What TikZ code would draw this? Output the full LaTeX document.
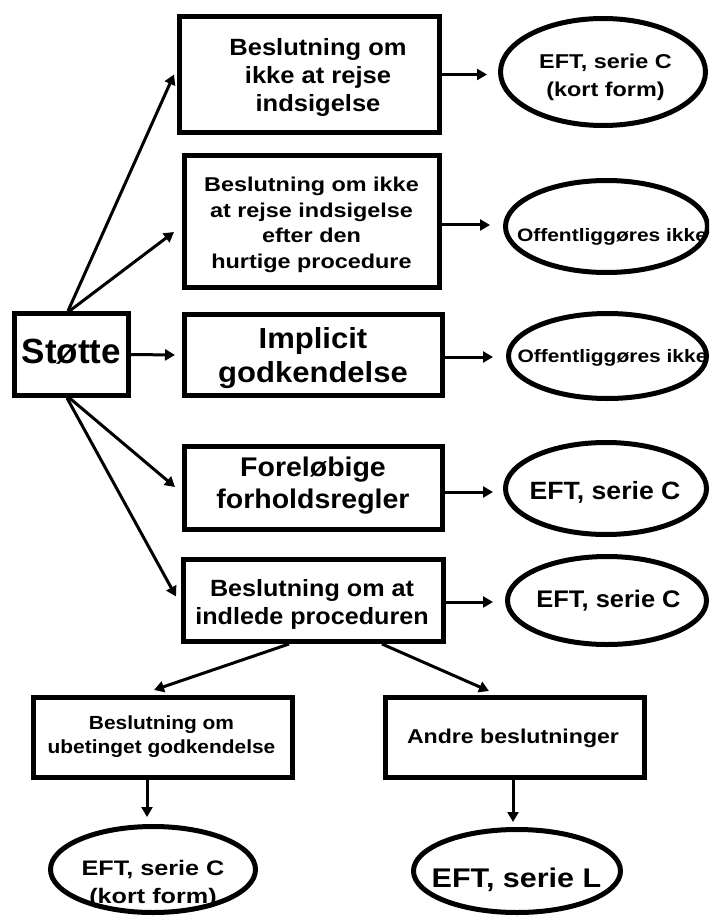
\documentclass[tikz,border=0pt]{standalone}
\usepackage{fontspec}
\setmainfont{Liberation Sans}
\usetikzlibrary{arrows.meta,shapes.geometric,calc}
\begin{document}
\begin{tikzpicture}[x=1pt,y=-1pt,
  box/.style={draw,line width=5pt,rectangle,inner sep=0pt},
  oval/.style={draw,line width=5pt,ellipse,inner sep=0pt},
  lbl/.style n args={3}{align=center,inner sep=0pt,font=\fontsize{#1}{#2}\selectfont\bfseries\addfontfeatures{FakeStretch=#3}},
  arr/.style={line width=3pt,-{Triangle[length=10pt,width=11pt]}}]
\useasboundingbox (0,0) rectangle (709,917);
\clip (0,0) rectangle (709,917);

% boxes
\node[box,minimum width=260pt,minimum height=116pt] (b1) at (309.5,74.5) {};
\node[box,minimum width=255pt,minimum height=132pt] (b2) at (312,221.5) {};
\node[box,minimum width=114pt,minimum height=82pt] (s) at (71.5,354.5) {};
\node[box,minimum width=258pt,minimum height=81pt] (b3) at (313.5,355) {};
\node[box,minimum width=258pt,minimum height=83pt] (b4) at (313.5,488) {};
\node[box,minimum width=260pt,minimum height=82pt] (b5) at (313.5,600.5) {};
\node[box,minimum width=259pt,minimum height=80pt] (b6) at (163,737.5) {};
\node[box,minimum width=259pt,minimum height=80pt] (b7) at (515,737.5) {};

% ellipses
\node[oval,minimum width=205pt,minimum height=107pt] (e1) at (603,72) {};
\node[oval,minimum width=202pt,minimum height=92pt] (e2) at (606.5,226.5) {};
\node[oval,minimum width=198pt,minimum height=85pt] (e3) at (607.5,356) {};
\node[oval,minimum width=201pt,minimum height=92pt] (e4) at (606,488.5) {};
\node[oval,minimum width=199pt,minimum height=88pt] (e5) at (607,600.5) {};
\node[oval,minimum width=205pt,minimum height=86pt] (e6) at (153,869.5) {};
\node[oval,minimum width=207pt,minimum height=83pt] (e7) at (517,871) {};

% texts
\node[lbl={23.5}{28}{1.086}] (t1) at (318,77) {Beslutning om\\ikke at rejse\\indsigelse};
\node[lbl={20}{25.7}{1.17}] (t2) at (311.5,225) {Beslutning om ikke\\at rejse indsigelse\\efter den\\hurtige procedure};
\node[lbl={35}{40}{1.0}] (ts) at (71.5,351.5) {Støtte};
\node[lbl={29}{34}{1.07}] (t3) at (313,358.5) {Implicit\\godkendelse};
\node[lbl={27}{31.5}{1.055}] (t4) at (313,485.5) {Foreløbige\\forholdsregler};
\node[lbl={23.5}{28}{1.07}] (t5) at (312,604) {Beslutning om at\\indlede proceduren};
\node[lbl={19}{23.3}{1.10}] (t6) at (161.5,736.7) {Beslutning om\\ubetinget godkendelse};
\node[lbl={20}{24}{1.156}] (t7) at (513,738.8) {Andre beslutninger};

\node[lbl={20}{28}{1.17}] (te1) at (605.5,77.8) {EFT, serie C\\(kort form)};
\node[lbl={18}{22}{1.165}] (te2) at (612,236.4) {Offentliggøres ikke};
\node[lbl={18}{22}{1.165}] (te3) at (612.5,357.4) {Offentliggøres ikke};
\node[lbl={25}{30}{1.065}] (te4) at (605,492.7) {EFT, serie C};
\node[lbl={24}{30}{1.06}] (te5) at (608.5,601) {EFT, serie C};
\node[lbl={21}{28}{1.2}] (te6) at (153,883.6) {EFT, serie C\\(kort form)};
\node[lbl={27}{32}{1.13}] (te7) at (516.5,880.1) {EFT, serie L};

% connectors from Støtte
\draw[arr] ($(s.north)+(-3.5,0)$) -- ($(b1.west)+(-3,0)$);
\draw[arr] ($(s.north)+(-2,0)$) -- ($(b2.west)+(-8,10.5)$);
\draw[arr] (s.east) -- ($(b3.west)+(-7,0)$);
\draw[arr] ($(s.south)+(-2,0)$) -- ($(b4.west)+(-7,-1)$);
\draw[arr] ($(s.south)+(-4.5,0)$) -- ($(b5.west)+(-5,-4)$);

% horizontal connectors to ellipses
\draw[arr] (b1.east) -- ($(b1.east -| e1.west)+(-11,0)$);
\draw[arr] ($(b2.east)+(0,3.5)$) -- ($(b2.east -| e2.west)+(-13,3.5)$);
\draw[arr] ($(b3.east)+(-4,2)$) -- ($(b3.east -| e3.west)+(-13,2)$);
\draw[arr] ($(b4.east)+(0,4)$) -- ($(b4.east -| e4.west)+(-10,4)$);
\draw[arr] ($(b5.east)+(0,1.5)$) -- ($(b5.east -| e5.west)+(-12,1.5)$);

% lower part
\coordinate (d6) at ($(b6.south)+(-16,0)$);
\coordinate (d7) at ($(b7.south)+(-2,0)$);
\draw[arr] ($(b5.south)+(-24.5,0)$) -- ($(b6.north)+(-9,-5)$);
\draw[arr] ($(b5.south)+(68.5,0)$) -- ($(b7.north)+(-26,-4)$);
\draw[arr] (d6) -- ($(d6 |- e6.north)+(0,-7)$);
\draw[arr] (d7) -- ($(d7 |- e7.north)+(0,-5)$);
\end{tikzpicture}
\end{document}
